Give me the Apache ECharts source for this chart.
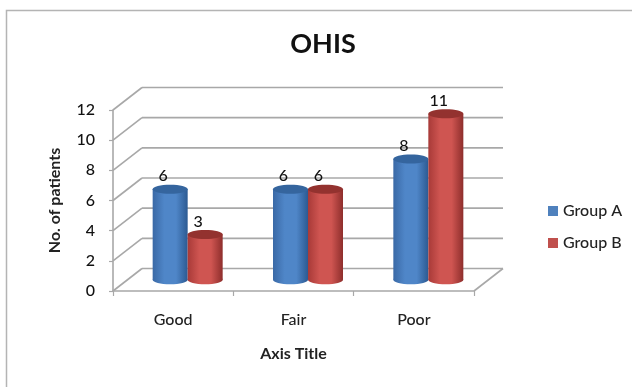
<!DOCTYPE html>
<html>
<head>
<meta charset="utf-8">
<style>html,body{margin:0;padding:0;background:#fff}#chart{width:632px;height:387px}</style>
<script src="https://cdn.jsdelivr.net/npm/echarts@6/dist/echarts.min.js"></script>
</head>
<body>
<div id="chart"></div>
<script>
const categories = ['Good', 'Fair', 'Poor'];
const groupA = [6, 6, 8];
const groupB = [3, 6, 11];
const gridValues = [0, 2, 4, 6, 8, 10, 12];

// Oblique projection of the chart box: how far the back wall sits from the front plane.
const DEPTH_X = 29;
const DEPTH_Y = -22.5;
const CYL_W = 35;
const CYL_RY = 4.5;
const WALL = '#a8a8a8';
const FONT = 'Lato';

function gradient(stops) {
  return { type: 'linear', x: 0, y: 0, x2: 1, y2: 0,
    colorStops: stops.map((c, i) => ({ offset: i / (stops.length - 1), color: c })) };
}

// Back wall and floor lines, following the value axis.
function renderWalls(params, api) {
  const v = api.value(0);
  const band = api.size([1, 0])[0];
  const first = api.coord([0, v]);
  const last = api.coord([categories.length - 1, v]);
  const x0 = first[0] - band / 2, x1 = last[0] + band / 2, y = first[1];
  const line = { stroke: WALL, lineWidth: 1.6 };
  const children = [
    { type: 'line', shape: { x1: x0, y1: y, x2: x0 + DEPTH_X, y2: y + DEPTH_Y }, style: line },
    { type: 'line', shape: { x1: x0 + DEPTH_X, y1: y + DEPTH_Y, x2: x1 + DEPTH_X, y2: y + DEPTH_Y }, style: line }
  ];
  if (v === 0) {
    children.push({ type: 'line', shape: { x1: x1, y1: y, x2: x1 + DEPTH_X, y2: y + DEPTH_Y }, style: line });
  }
  return { type: 'group', children };
}

// One 3D cylinder standing on the middle of the floor; side is -1 for the left member of a pair.
function cylinderRenderer(side, bodyStops, capColor) {
  return function (params, api) {
    const v = api.value(1);
    const base = api.coord([api.value(0), 0]);
    const top = api.coord([api.value(0), v]);
    const cx = base[0] + DEPTH_X / 2 + side * CYL_W / 2;
    const yBase = base[1] + DEPTH_Y / 2;
    const yTop = top[1] + DEPTH_Y / 2;
    const fill = gradient(bodyStops);
    return {
      type: 'group',
      children: [
        { type: 'ellipse', shape: { cx, cy: yBase, rx: CYL_W / 2, ry: CYL_RY }, style: { fill } },
        { type: 'rect', shape: { x: cx - CYL_W / 2, y: yTop, width: CYL_W, height: yBase - yTop }, style: { fill } },
        { type: 'ellipse', shape: { cx, cy: yTop, rx: CYL_W / 2, ry: CYL_RY }, style: { fill: capColor } },
        { type: 'text', style: { text: String(v), x: cx - 7, y: yTop - 13, align: 'center', verticalAlign: 'middle',
          font: '500 16px ' + FONT, fill: '#111' } }
      ]
    };
  };
}

const chart = echarts.init(document.getElementById('chart'), null, { renderer: 'canvas' });
chart.setOption({
  animation: false,
  backgroundColor: '#fff',
  title: {
    text: 'OHIS', left: 318, top: 26, textAlign: 'center',
    textStyle: { fontFamily: FONT, fontSize: 27, fontWeight: 'bold', color: '#111' }
  },
  legend: {
    orient: 'vertical', left: 543, top: 198, itemWidth: 10, itemHeight: 10, itemGap: 16, itemStyle: {},
    icon: 'rect', data: ['Group A', 'Group B'],
    textStyle: { fontFamily: FONT, fontSize: 16, fontWeight: 500, color: '#222' }
  },
  grid: { left: 113, top: 110, width: 361, height: 181 },
  xAxis: {
    type: 'category', data: categories,
    name: 'Axis Title', nameLocation: 'middle', nameGap: 55,
    nameTextStyle: { fontFamily: FONT, fontSize: 16, fontWeight: 'bold', color: '#222' },
    axisLine: { lineStyle: { color: WALL, width: 1.6 } },
    axisTick: { show: true, length: 5, lineStyle: { color: WALL, width: 1.2 } },
    axisLabel: { fontFamily: FONT, fontSize: 16, fontWeight: 500, color: '#222', margin: 21 }
  },
  yAxis: {
    type: 'value', min: 0, max: 12, interval: 2,
    name: 'No. of patients', nameLocation: 'middle', nameGap: 50,
    nameTextStyle: { fontFamily: FONT, fontSize: 16, fontWeight: 'bold', color: '#222' },
    axisLine: { show: true, lineStyle: { color: WALL, width: 1.6 } },
    axisTick: { show: true, length: 4, lineStyle: { color: WALL, width: 1.2 } },
    axisLabel: { fontFamily: FONT, fontSize: 16, fontWeight: 500, color: '#111', margin: 18 },
    splitLine: { show: false }
  },
  graphic: [{
    type: 'polyline', silent: true,
    shape: { points: [[6.5, 387], [6.5, 10.5], [632, 10.5]] },
    style: { stroke: '#b4b4b4', lineWidth: 1.5, fill: 'none' }
  }],
  series: [
    { type: 'custom', name: 'walls', silent: true, renderItem: renderWalls, encode: { y: 0 },
      data: gridValues.map(v => [v]) },
    { type: 'custom', name: 'Group A', itemStyle: { color: '#4f81bd' }, encode: { x: 0, y: 1 },
      renderItem: cylinderRenderer(-1, ['#3a69a6', '#4f86c8', '#4f86c8', '#2c5a92'], '#35659e'),
      data: groupA.map((v, i) => [i, v]) },
    { type: 'custom', name: 'Group B', itemStyle: { color: '#c0504d' }, encode: { x: 0, y: 1 },
      renderItem: cylinderRenderer(1, ['#a83a38', '#cf5551', '#cf5551', '#8e2e2c'], '#93322f'),
      data: groupB.map((v, i) => [i, v]) }
  ]
});
</script>
</body>
</html>
